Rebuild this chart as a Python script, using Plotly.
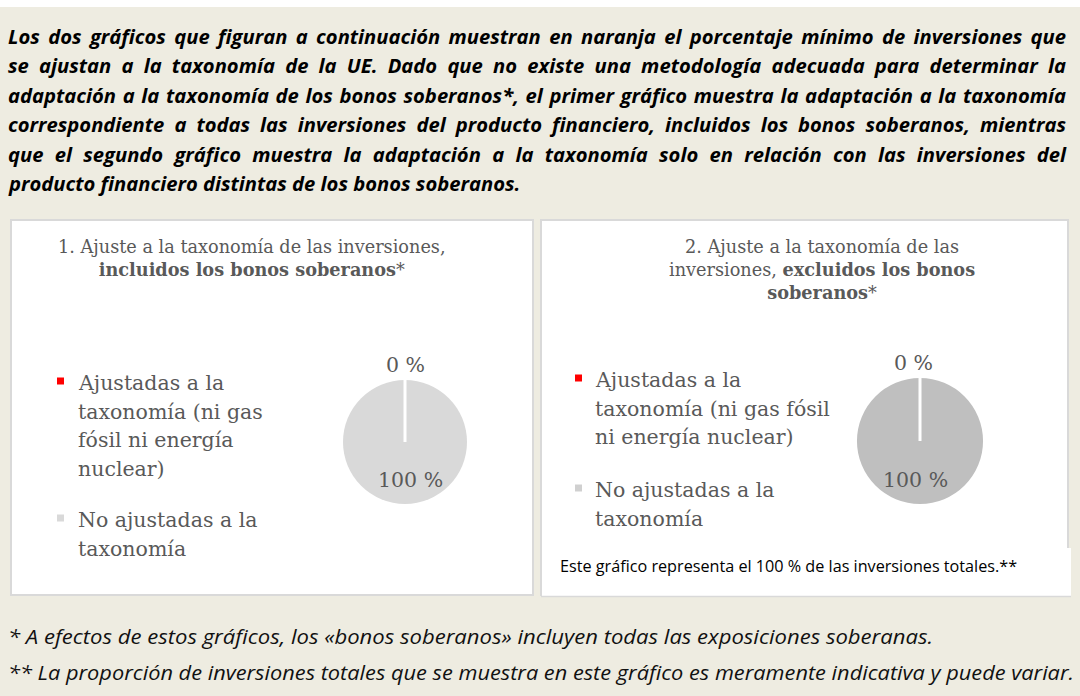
import math
import textwrap
import plotly.graph_objects as go

W, H = 1080, 696

# ---------------- data ----------------
categories = ["Ajustadas a la taxonomía (ni gas fósil ni energía nuclear)",
              "No ajustadas a la taxonomía"]
values_incl = [0, 100]      # chart 1: including sovereign bonds (%)
values_excl = [0, 100]      # chart 2: excluding sovereign bonds (%)
colors_incl = ["#FF0000", "#D9D9D9"]
colors_excl = ["#FF0000", "#BFBFBF"]

intro_lines = [
    "Los dos gráficos que figuran a continuación muestran en naranja el porcentaje mínimo de inversiones que",
    "se ajustan a la taxonomía de la UE. Dado que no existe una metodología adecuada para determinar la",
    "adaptación a la taxonomía de los bonos soberanos*, el primer gráfico muestra la adaptación a la taxonomía",
    "correspondiente a todas las inversiones del producto financiero, incluidos los bonos soberanos, mientras",
    "que el segundo gráfico muestra la adaptación a la taxonomía solo en relación con las inversiones del",
    "producto financiero distintas de los bonos soberanos.",
]
title1 = "1. Ajuste a la taxonomía de las inversiones,<br><b>incluidos los bonos soberanos</b>*"
title2 = "2. Ajuste a la taxonomía de las<br>inversiones, <b>excluidos los bonos</b><br><b>soberanos</b>*"
note2 = "Este gráfico representa el 100 % de las inversiones totales.**"
footnotes = [
    "* A efectos de estos gráficos, los «bonos soberanos» incluyen todas las exposiciones soberanas.",
    "** La proporción de inversiones totales que se muestra en este gráfico es meramente indicativa y puede variar.",
]

# ---------------- helpers ----------------
def X(px):
    return px / W

def Y(py):
    return 1 - py / H

SERIF = "DejaVu Serif"
SANS = "Open Sans"
GREY_TXT = "#595959"
BEIGE = "#EEECE1"
BORDER = "#D9D9D9"

fig = go.Figure()
shapes = []
annotations = []
justify = []   # (annotation index, target width px)
squeeze = []   # (annotation index, target width px)

# background
shapes.append(dict(type="rect", xref="paper", yref="paper", x0=0, x1=1, y0=0, y1=Y(7),
                   fillcolor=BEIGE, line_width=0, layer="below"))
# panel 1
shapes.append(dict(type="rect", xref="paper", yref="paper", x0=X(11), x1=X(533), y0=Y(595), y1=Y(220),
                   fillcolor="white", line=dict(color=BORDER, width=2), layer="below"))
# panel 2 (with white note strip below its border)
shapes.append(dict(type="rect", xref="paper", yref="paper", x0=X(541), x1=X(1071), y0=Y(596), y1=Y(548),
                   fillcolor="white", line_width=0, layer="below"))
shapes.append(dict(type="path", xref="paper", yref="paper",
                   path=f"M {X(541)},{Y(596)} L {X(541)},{Y(220)} L {X(1068)},{Y(220)} L {X(1068)},{Y(548)}",
                   line=dict(color=BORDER, width=2), layer="below"))
shapes.append(dict(type="rect", xref="paper", yref="paper", x0=X(542), x1=X(1067), y0=Y(596), y1=Y(221),
                   fillcolor="white", line_width=0, layer="below"))
shapes.append(dict(type="line", xref="paper", yref="paper", x0=X(541), x1=X(1071), y0=Y(596.5), y1=Y(596.5),
                   line=dict(color=BORDER, width=1.5), layer="below"))

# intro paragraph (justified: all but the last line stretched to full width)
for i, line in enumerate(intro_lines):
    if i < len(intro_lines) - 1:
        justify.append((len(annotations), 1058))
    annotations.append(dict(text=line, xref="paper", yref="paper", align="left",
                            x=X(6), y=Y(36 + i * 29.4), xanchor="left", yanchor="middle",
                            showarrow=False,
                            font=dict(family=SANS, size=20.2, color="#000000",
                                      weight="bold", style="italic")))

# footnotes (condensed italic)
foot_widths = [925, 1066]
for i, line in enumerate(footnotes):
    squeeze.append((len(annotations), foot_widths[i]))
    annotations.append(dict(text=line, xref="paper", yref="paper", align="left",
                            x=X(6), y=Y(636 + i * 36), xanchor="left", yanchor="middle",
                            showarrow=False,
                            font=dict(family=SANS, size=20, color="#111111", style="italic")))

# titles
annotations.append(dict(text=title1, xref="paper", yref="paper", x=X(252), y=Y(235),
                        xanchor="center", yanchor="top", showarrow=False, align="center",
                        font=dict(family=SERIF, size=17.7, color=GREY_TXT)))
annotations.append(dict(text=title2, xref="paper", yref="paper", x=X(822), y=Y(235),
                        xanchor="center", yanchor="top", showarrow=False, align="center",
                        font=dict(family=SERIF, size=17.7, color=GREY_TXT)))

# note in chart 2
annotations.append(dict(text=note2, xref="paper", yref="paper", x=X(558), y=Y(566),
                        xanchor="left", yanchor="middle", showarrow=False,
                        font=dict(family=SANS, size=16.2, color="#000000")))

# legends (custom, wrapped text, one annotation per line)
def add_legend(x_sq, x_txt, y_first, wrap, colors, gap):
    y = y_first
    for cat, col in zip(categories, colors):
        lines = textwrap.wrap(cat, wrap)
        shapes.append(dict(type="rect", xref="paper", yref="paper",
                           x0=X(x_sq), x1=X(x_sq + 7), y0=Y(y + 1.5), y1=Y(y - 5.5),
                           fillcolor=col, line_width=0))
        for k, ln in enumerate(lines):
            annotations.append(dict(text=ln, xref="paper", yref="paper",
                                    x=X(x_txt), y=Y(y + 28.5 * k), xanchor="left", yanchor="middle",
                                    align="left", showarrow=False,
                                    font=dict(family=SERIF, size=20.5, color=GREY_TXT)))
        y += 28.5 * len(lines) + gap

add_legend(57, 76, 383, 17, ["#FF0000", "#D9D9D9"], 23)
add_legend(575, 593, 380, 23, ["#FF0000", "#D0D0D0"], 24.5)

# pies
def add_pie(cx, cy, r, vals, cols, lab_small_dx, lab_big_dx):
    fig.add_trace(go.Pie(
        labels=categories, values=vals, sort=False, direction="clockwise", rotation=0,
        marker=dict(colors=cols, line=dict(color="white", width=0)),
        textinfo="none", hoverinfo="label+percent", showlegend=False,
        domain=dict(x=[X(cx - r), X(cx + r)], y=[Y(cy + r), Y(cy - r)]),
    ))
    total = sum(vals)
    # white boundary line of the first slice (starts at 12 o'clock, clockwise)
    ang = math.pi / 2 - 2 * math.pi * vals[0] / total
    shapes.append(dict(type="line", xref="paper", yref="paper",
                       x0=X(cx), y0=Y(cy), x1=X(cx + r * math.cos(ang)), y1=Y(cy - r * math.sin(ang)),
                       line=dict(color="white", width=3)))
    # value labels
    annotations.append(dict(text=f"{vals[0]} %", xref="paper", yref="paper",
                            x=X(cx + lab_small_dx), y=Y(cy - r - 15), xanchor="center", yanchor="middle",
                            showarrow=False, font=dict(family=SERIF, size=20.5, color=GREY_TXT)))
    annotations.append(dict(text=f"{vals[1]} %", xref="paper", yref="paper",
                            x=X(cx + lab_big_dx), y=Y(cy + 0.62 * r), xanchor="center", yanchor="middle",
                            showarrow=False, font=dict(family=SERIF, size=20.5, color=GREY_TXT)))

add_pie(405, 442, 62, values_incl, colors_incl, 0, 5)
add_pie(920, 441, 63, values_excl, colors_excl, -7, -5)

fig.update_layout(width=W, height=H, margin=dict(l=0, r=0, t=0, b=0),
                  paper_bgcolor="white", plot_bgcolor="white",
                  shapes=shapes, annotations=annotations)

post_js = """
document.body.style.margin = '0';
var gd = document.getElementById('{plot_id}');
function textEl(i) {
  return gd.querySelector('g.annotation[data-index="' + i + '"] text.annotation-text');
}
var just = %s;
just.forEach(function(t) {
  var el = textEl(t[0]);
  if (!el) return;
  el.setAttribute('text-anchor', 'start');
  var natural = el.getComputedTextLength();
  var n = (el.textContent.match(/ /g) || []).length;
  if (n > 0) el.style.wordSpacing = ((t[1] - natural) / n) + 'px';
});
var sq = %s;
sq.forEach(function(t) {
  var el = textEl(t[0]);
  if (!el) return;
  el.setAttribute('text-anchor', 'start');
  el.setAttribute('textLength', String(t[1]));
  el.setAttribute('lengthAdjust', 'spacingAndGlyphs');
});
""" % (str([list(t) for t in justify]), str([list(t) for t in squeeze]))

fig.write_html("out.html", post_script=post_js, config={"displayModeBar": False})
